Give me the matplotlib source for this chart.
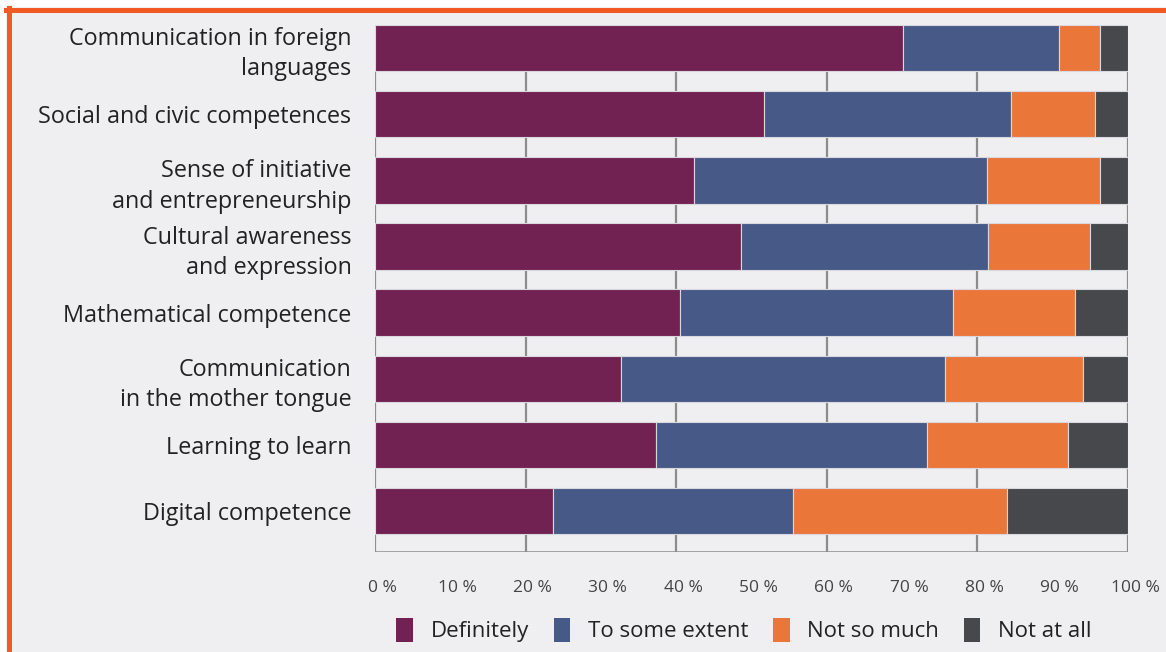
import numpy as np
import matplotlib.pyplot as plt
import matplotlib.transforms as mtransforms
from matplotlib.patches import Rectangle, Patch
from matplotlib.lines import Line2D

categories = [
    'Communication in foreign\nlanguages',
    'Social and civic competences',
    'Sense of initiative\nand entrepreneurship',
    'Cultural awareness\nand expression',
    'Mathematical competence',
    'Communication\nin the mother tongue',
    'Learning to learn',
    'Digital competence',
]
definitely = [70.1, 51.7, 42.4, 48.6, 40.5, 32.7, 37.3, 23.6]
some_extent = [20.7, 32.8, 38.9, 32.8, 36.3, 43.0, 36.0, 31.9]
not_so_much = [5.5, 11.1, 15.0, 13.6, 16.2, 18.3, 18.7, 28.4]
not_at_all = [3.7, 4.4, 3.7, 5.0, 7.0, 6.0, 8.0, 16.1]

series = ['Definitely', 'To some extent', 'Not so much', 'Not at all']
colors = ['#722252', '#475A87', '#EA763A', '#47484C']
tick_labels = [f'{v} %' for v in range(0, 101, 10)]

plt.rcParams['font.family'] = ['Open Sans', 'DejaVu Sans']

fig = plt.figure(figsize=(11.66, 6.52), dpi=100)
fig.patch.set_facecolor('white')
W, H = 1166, 652
# grey panel with orange frame on top and left
fig.patches.append(Rectangle((6 / W, 0), 1, 1 - 7 / H, transform=fig.transFigure,
                             facecolor='#EFEFF1', edgecolor='none', zorder=-2))
fig.lines.append(Line2D([6 / W, 1], [1 - 9.5 / H, 1 - 9.5 / H], transform=fig.transFigure,
                        color='#F15A24', linewidth=3.6, zorder=-1))
fig.lines.append(Line2D([8.5 / W, 8.5 / W], [0, 1 - 8 / H], transform=fig.transFigure,
                        color='#F15A24', linewidth=3.6, zorder=-1))

ax = fig.add_axes([375 / W, 1 - 552 / H, 753 / W, 527 / H])
ax.set_facecolor('none')

y = np.arange(len(categories))
left = np.zeros(len(categories))
for name, vals, c in zip(series, [definitely, some_extent, not_so_much, not_at_all], colors):
    ax.barh(y, vals, left=left, height=0.7, color=c, edgecolor='#D8D8DE',
            linewidth=0.8, zorder=3, label=name)
    left += np.array(vals)

ax.set_xlim(0, 100)
ax.set_ylim(7.62, -0.35)
for gx in range(0, 101, 20):
    ax.axvline(gx, color='#8C8C8C', linewidth=1.6, zorder=1)
ax.axhline(7.62, color='#8C8C8C', linewidth=1.8, zorder=1)

for s in ax.spines.values():
    s.set_visible(False)

ax.set_yticks(y)
ax.set_yticklabels(categories, fontsize=16.8, color='#222222', linespacing=1.35)
ax.tick_params(axis='y', length=0, pad=17)

ax.set_xticks(range(0, 101, 10))
ax.set_xticklabels(tick_labels, fontsize=12.5, color='#444444', fontweight='medium')
ax.tick_params(axis='x', length=0, pad=20)
offset = mtransforms.ScaledTranslation(7 / 100, 0, fig.dpi_scale_trans)
for lbl in ax.get_xticklabels():
    lbl.set_transform(lbl.get_transform() + offset)

handles = [Patch(facecolor=c, edgecolor='none') for c in colors]
fig.legend(handles, series, loc='center', bbox_to_anchor=(744 / W, 1 - 630 / H),
           ncol=4, frameon=False, fontsize=16, handlelength=0.75, handleheight=1.3,
           handletextpad=0.8, columnspacing=1.1, labelcolor='#222222')

fig.savefig('out.png', dpi=100, facecolor=fig.get_facecolor())
